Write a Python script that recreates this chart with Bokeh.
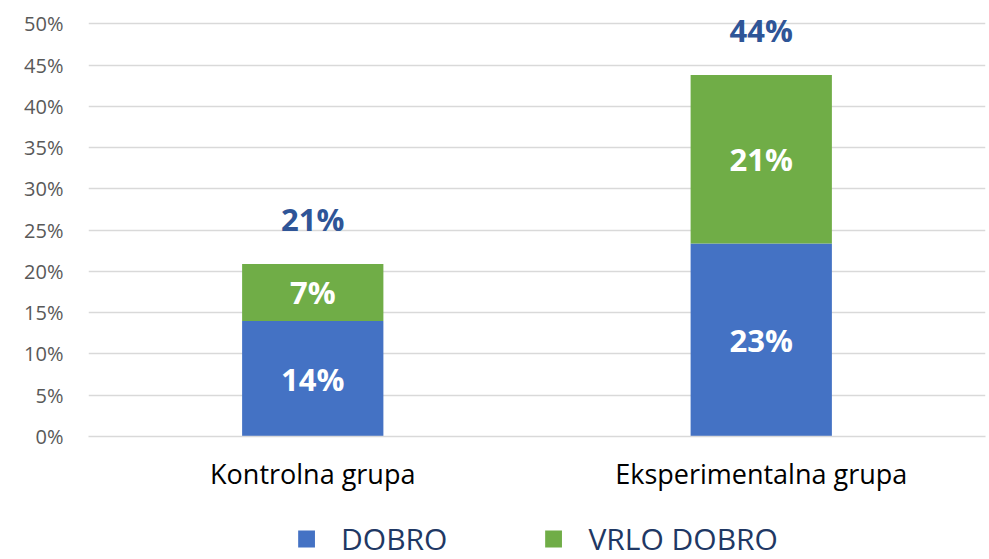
from bokeh.plotting import figure
from bokeh.layouts import column
from bokeh.core.properties import value
from bokeh.models import ColumnDataSource, FactorRange, Range1d, LabelSet, Legend, LegendItem, FixedTicker, CustomJSTickFormatter
from bokeh.embed import file_html
from bokeh.resources import INLINE

categories = ["Kontrolna grupa", "Eksperimentalna grupa"]
dobro = [14.0, 23.4]
vrlo_dobro = [6.9, 20.4]
dobro_labels = ["14%", "23%"]
vrlo_labels = ["7%", "21%"]
total_labels = ["21%", "44%"]
series_names = ["DOBRO", "VRLO DOBRO"]
y_ticks = [0, 5, 10, 15, 20, 25, 30, 35, 40, 45, 50]

FONT = "Open Sans"
BLUE = "#4472C4"
GREEN = "#70AD47"

top1 = dobro
top2 = [a + b for a, b in zip(dobro, vrlo_dobro)]
mid1 = [a / 2 for a in dobro]
mid2 = [a + b / 2 for a, b in zip(dobro, vrlo_dobro)]

src = ColumnDataSource(dict(
    cat=categories, top1=top1, top2=top2, mid1=mid1, mid2=mid2,
    l1=dobro_labels, l2=vrlo_labels, lt=total_labels, zero=[0, 0],
))

p = figure(x_range=FactorRange(factors=categories, range_padding=0),
           y_range=Range1d(0, 51.5),
           width=989, height=508, output_backend="svg", toolbar_location=None,
           min_border_left=88, min_border_right=4, min_border_top=11, min_border_bottom=72)
p.outline_line_color = None
p.background_fill_color = "white"
p.border_fill_color = "white"

r1 = p.vbar(x="cat", bottom="zero", top="top1", width=0.315, source=src,
            fill_color=BLUE, line_color=None)
r2 = p.vbar(x="cat", bottom="top1", top="top2", width=0.315, source=src,
            fill_color=GREEN, line_color=None)

p.add_layout(LabelSet(x="cat", y="mid1", text="l1", source=src, text_align="center",
                      text_baseline="middle", text_color="white", text_font=value(FONT),
                      text_font_style="bold", text_font_size="31px"))
p.add_layout(LabelSet(x="cat", y="mid2", text="l2", source=src, text_align="center",
                      text_baseline="middle", text_color="white", text_font=value(FONT),
                      text_font_style="bold", text_font_size="31px"))
p.add_layout(LabelSet(x="cat", y="top2", text="lt", source=src, text_align="center",
                      text_baseline="middle", text_color="#2F5597", text_font=value(FONT),
                      text_font_style="bold", text_font_size="31px", y_offset=45))

p.yaxis.ticker = FixedTicker(ticks=y_ticks)
p.yaxis.formatter = CustomJSTickFormatter(code="return tick + '%';")
p.yaxis.axis_line_color = None
p.yaxis.major_tick_line_color = None
p.yaxis.minor_tick_line_color = None
p.yaxis.major_label_text_font = FONT
p.yaxis.major_label_text_font_size = "20px"
p.yaxis.major_label_text_color = "#595959"
p.yaxis.major_label_standoff = 19

p.xaxis.axis_line_color = "#D9D9D9"
p.xaxis.axis_line_width = 1.5
p.xaxis.major_tick_line_color = None
p.xaxis.minor_tick_line_color = None
p.xaxis.major_label_text_font = FONT
p.xaxis.major_label_text_font_size = "27px"
p.xaxis.major_label_text_color = "#000000"
p.xaxis.major_label_standoff = 12

p.xgrid.grid_line_color = None
p.ygrid.grid_line_color = "#D9D9D9"
p.ygrid.grid_line_width = 1.5

# legend strip below the chart (zero-size proxy glyphs carry the series colours)
lp = figure(width=989, height=51, output_backend="svg", toolbar_location=None,
            x_axis_type=None, y_axis_type=None,
            x_range=Range1d(0, 1), y_range=Range1d(0, 1),
            min_border_left=88, min_border_right=4, min_border_top=0, min_border_bottom=0)
lp.outline_line_color = None
lp.xgrid.grid_line_color = None
lp.ygrid.grid_line_color = None
lr1 = lp.vbar(x=[0], bottom=[0], top=[0], width=0, fill_color=BLUE, line_color=None)
lr2 = lp.vbar(x=[0], bottom=[0], top=[0], width=0, fill_color=GREEN, line_color=None)

legend = Legend(items=[LegendItem(label=series_names[0], renderers=[lr1]),
                       LegendItem(label=series_names[1], renderers=[lr2])],
                orientation="horizontal", location="bottom_center",
                label_text_font=FONT, label_text_font_size="30px",
                label_text_color="#1F3864", glyph_width=21, glyph_height=21,
                label_standoff=25, spacing=95, padding=0, margin=0,
                border_line_color=None, background_fill_alpha=0)
lp.add_layout(legend, "center")

open("out.html", "w").write(file_html(column(p, lp, spacing=0), INLINE))
